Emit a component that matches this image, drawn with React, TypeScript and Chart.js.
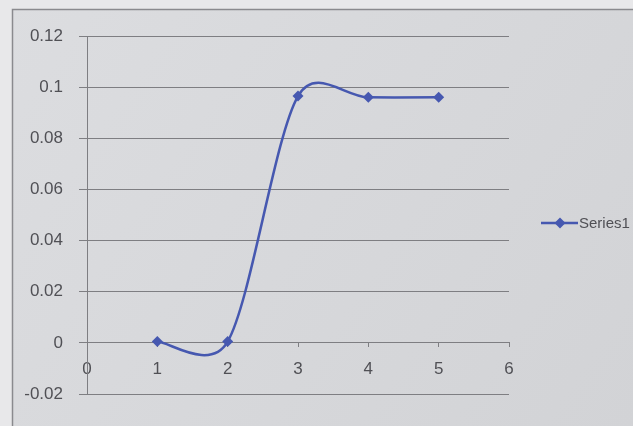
import React, { useEffect, useRef } from "react";
import { Chart, registerables } from "chart.js";

Chart.register(...registerables);

const xValues = [1, 2, 3, 4, 5];
const series1 = [0.0005, 0.0005, 0.0965, 0.096, 0.096];
const seriesName = "Series1";
const yMin = -0.02;
const yMax = 0.12;
const yStep = 0.02;
const xMin = 0;
const xMax = 6;

const LINE_COLOR = "#4658b0";
const GRID_COLOR = "#7e7e82";
const TEXT_COLOR = "#505055";
const FONT = "'Liberation Sans', 'DejaVu Sans', sans-serif";

// Excel-like smoothing: Catmull-Rom style control vectors (1/6 of neighbour span),
// capped at half the adjacent segment length.
const excelSmoothPlugin = {
  id: "excelSmooth",
  beforeDatasetDraw(chart: any, args: any) {
    const meta = args.meta;
    const line = meta.dataset;
    if (!line) return;
    line.updateControlPoints(chart.chartArea, meta.iScale.axis);
    const pts = meta.data;
    const n = pts.length;
    for (let i = 0; i < n; i++) {
      const p = pts[i];
      const prev = pts[Math.max(0, i - 1)];
      const next = pts[Math.min(n - 1, i + 1)];
      let vx = (next.x - prev.x) / 6;
      let vy = (next.y - prev.y) / 6;
      const vl = Math.hypot(vx, vy) || 1;
      const d0 = Math.hypot(p.x - prev.x, p.y - prev.y);
      const d1 = Math.hypot(next.x - p.x, next.y - p.y);
      const s0 = Math.min(1, d0 / 2 / vl);
      const s1 = Math.min(1, d1 / 2 / vl);
      p.cp1x = p.x - vx * s0;
      p.cp1y = p.y - vy * s0;
      p.cp2x = p.x + vx * s1;
      p.cp2y = p.y + vy * s1;
    }
  },
};

export default function App() {
  const ref = useRef<HTMLCanvasElement | null>(null);

  useEffect(() => {
    document.body.style.margin = "0";
    const canvas = ref.current;
    if (!canvas) return;

    const bgPlugin = {
      id: "bgPlugin",
      beforeDraw(chart: any) {
        const { ctx, width, height } = chart;
        ctx.save();
        ctx.fillStyle = "#e8e8ea";
        ctx.fillRect(0, 0, width, height);
        const g = ctx.createLinearGradient(0, 0, width, height);
        g.addColorStop(0, "#dcdde0");
        g.addColorStop(1, "#d2d3d6");
        ctx.fillStyle = g;
        ctx.fillRect(12, 9, width - 12, height - 9);
        ctx.strokeStyle = "#8a8a8e";
        ctx.lineWidth = 1.5;
        ctx.beginPath();
        ctx.moveTo(12.5, height);
        ctx.lineTo(12.5, 9.5);
        ctx.lineTo(width, 9.5);
        ctx.stroke();
        ctx.restore();
      },
      afterDraw(chart: any) {
        const { ctx } = chart;
        const y = 223;
        ctx.save();
        ctx.strokeStyle = LINE_COLOR;
        ctx.lineWidth = 2.5;
        ctx.beginPath();
        ctx.moveTo(541, y);
        ctx.lineTo(578, y);
        ctx.stroke();
        ctx.fillStyle = LINE_COLOR;
        ctx.beginPath();
        ctx.moveTo(560, y - 5.5);
        ctx.lineTo(565.5, y);
        ctx.lineTo(560, y + 5.5);
        ctx.lineTo(554.5, y);
        ctx.closePath();
        ctx.fill();
        ctx.fillStyle = TEXT_COLOR;
        ctx.font = "15px " + FONT;
        ctx.textBaseline = "middle";
        ctx.textAlign = "left";
        ctx.fillText(seriesName, 579, y + 1);
        ctx.restore();
      },
    };

    const chart = new Chart(canvas, {
      type: "line",
      data: {
        datasets: [
          {
            label: seriesName,
            data: xValues.map((x, i) => ({ x, y: series1[i] })),
            borderColor: LINE_COLOR,
            backgroundColor: LINE_COLOR,
            borderWidth: 2.5,
            tension: 0.4,
            pointStyle: "rectRot",
            pointRadius: 5.5,
            pointBorderWidth: 0,
            fill: false,
          },
        ],
      },
      options: {
        animation: false,
        responsive: false,
        maintainAspectRatio: false,
        layout: { padding: { left: 16, right: 124, top: 36, bottom: 32 } },
        plugins: {
          legend: { display: false },
          tooltip: { enabled: false },
        },
        scales: {
          x: {
            type: "linear",
            min: xMin,
            max: xMax,
            position: { y: 0 } as any,
            grid: {
              display: true,
              drawOnChartArea: false,
              drawTicks: true,
              tickLength: 4,
              color: GRID_COLOR,
            },
            border: { display: true, color: GRID_COLOR, width: 1 },
            ticks: {
              stepSize: 1,
              color: TEXT_COLOR,
              font: { family: FONT, size: 17 },
              padding: 12,
              maxRotation: 0,
            },
          },
          y: {
            type: "linear",
            min: yMin,
            max: yMax,
            afterFit: (s: any) => {
              s.width = 71;
            },
            grid: {
              color: GRID_COLOR,
              lineWidth: 1,
              tickLength: 8,
            },
            border: { display: true, color: GRID_COLOR, width: 1 },
            ticks: {
              stepSize: yStep,
              color: TEXT_COLOR,
              font: { family: FONT, size: 17 },
              padding: 16,
              callback: (v: any) => String(Number(Number(v).toFixed(2))),
            },
          },
        },
      },
      plugins: [bgPlugin, excelSmoothPlugin],
    });

    return () => chart.destroy();
  }, []);

  return (
    <div style={{ position: "fixed", left: 0, top: 0, width: 633, height: 426 }}>
      <canvas ref={ref} width={633} height={426} style={{ width: 633, height: 426, display: "block" }} />
    </div>
  );
}
